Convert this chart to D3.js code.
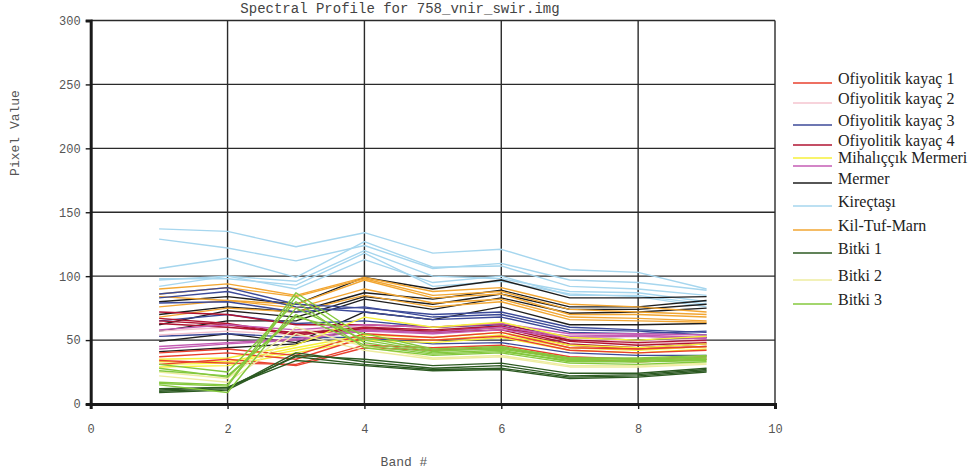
<!DOCTYPE html>
<html>
<head>
<meta charset="utf-8">
<script src="https://cdn.jsdelivr.net/npm/d3@7/dist/d3.min.js"></script>
<style>
  html, body { margin: 0; padding: 0; background: #fff; }
  svg { display: block; }
</style>
</head>
<body>
<div id="chart"></div>
<script>
// Band numbers sampled by every spectrum
const bands = [1, 2, 3, 4, 5, 6, 7, 8, 9];

// Axis ticks
const xTicks = [0, 2, 4, 6, 8, 10];
const yTicks = [0, 50, 100, 150, 200, 250, 300];

// Legend entries (class names) and their colours
const classNames = [
  "Ofiyolitik kayaç 1", "Ofiyolitik kayaç 2", "Ofiyolitik kayaç 3", "Ofiyolitik kayaç 4",
  "Mihalıççık Mermeri", "Mermer", "Kireçtaşı", "Kil-Tuf-Marn", "Bitki 1", "Bitki 2", "Bitki 3"
];
const classColors = [
  ["#e8402e"], ["#f4c4cf"], ["#3c4a98"], ["#b01432"],
  ["#f6f03a", "#c45cb4"], ["#1e1e1e"], ["#a6d6ee"], ["#f2a632"],
  ["#2c5a22"], ["#eeeca0"], ["#84c83e"]
];

// Pixel values per band, one row per sampled pixel
const ofiyolitik1 = [
  [37, 40, 35, 52, 50, 53, 42, 40, 42],
  [34, 32, 31, 46, 44, 46, 37, 35, 37],
  [40, 43, 38, 55, 52, 56, 44, 43, 45],
  [31, 35, 30, 44, 42, 44, 35, 33, 35]
];
const ofiyolitik2 = [
  [57, 60, 56, 61, 57, 61, 51, 49, 51],
  [54, 57, 54, 59, 55, 59, 49, 47, 49]
];
const ofiyolitik3 = [
  [86, 91, 78, 75, 70, 72, 60, 58, 56],
  [79, 80, 72, 76, 68, 70, 58, 57, 54],
  [83, 88, 76, 72, 66, 68, 56, 55, 57],
  [65, 70, 63, 65, 60, 62, 52, 50, 50],
  [53, 55, 52, 52, 47, 48, 40, 38, 38]
];
const ofiyolitik4 = [
  [67, 63, 55, 60, 58, 61, 49, 46, 48],
  [65, 62, 54, 59, 57, 60, 47, 44, 47],
  [63, 60, 56, 58, 56, 58, 46, 43, 45],
  [72, 70, 62, 62, 60, 63, 50, 48, 50]
];
const mihaliccikYellow = [
  [33, 33, 44, 54, 52, 56, 46, 44, 47],
  [31, 32, 42, 52, 50, 54, 44, 42, 45],
  [29, 30, 40, 50, 48, 52, 42, 40, 43],
  [35, 36, 46, 68, 60, 64, 52, 50, 53]
];
const mihaliccikPurple = [
  [43, 47, 50, 57, 55, 58, 52, 53, 51],
  [45, 48, 51, 58, 56, 60, 53, 54, 52],
  [58, 62, 58, 62, 60, 63, 55, 55, 54]
];
const mermer = [
  [80, 84, 78, 99, 90, 97, 83, 83, 84],
  [70, 76, 72, 87, 82, 89, 76, 76, 81],
  [62, 73, 68, 84, 78, 86, 74, 74, 78],
  [57, 65, 65, 82, 74, 83, 71, 72, 75],
  [49, 55, 48, 72, 66, 76, 62, 62, 63],
  [41, 44, 47, 60, 56, 60, 50, 50, 52]
];
const kirectasi = [
  [137, 135, 123, 134, 118, 121, 105, 103, 90],
  [129, 122, 112, 124, 106, 110, 97, 95, 89],
  [106, 114, 99, 127, 107, 108, 92, 90, 85],
  [97, 100, 96, 120, 100, 98, 88, 87, 80],
  [92, 100, 90, 113, 95, 100, 85, 85, 78],
  [98, 98, 93, 118, 92, 96, 86, 84, 76]
];
const kilTufMarn = [
  [90, 94, 85, 99, 88, 91, 78, 76, 72],
  [86, 91, 84, 98, 85, 88, 74, 72, 70],
  [84, 81, 78, 97, 83, 86, 70, 70, 68],
  [76, 81, 75, 90, 79, 82, 68, 67, 65],
  [68, 75, 72, 85, 76, 80, 66, 65, 64]
];
const bitki1 = [
  [10, 12, 40, 33, 28, 30, 22, 23, 27],
  [11, 13, 37, 31, 27, 28, 21, 22, 26],
  [12, 13, 34, 30, 26, 27, 20, 21, 25],
  [9, 11, 38, 35, 30, 32, 24, 24, 28]
];
const bitki2 = [
  [25, 20, 60, 45, 36, 38, 30, 30, 32],
  [22, 17, 55, 42, 35, 37, 29, 29, 31]
];
const bitki3 = [
  [17, 15, 87, 52, 42, 43, 35, 34, 36],
  [16, 14, 84, 48, 40, 42, 33, 33, 34],
  [31, 25, 80, 44, 38, 40, 32, 31, 33],
  [28, 21, 70, 46, 39, 41, 34, 33, 35],
  [15, 9, 75, 50, 41, 44, 36, 35, 37],
  [26, 22, 68, 55, 43, 45, 36, 36, 38]
];

// Drawing order (back to front) with colours
const layers = [
  { rows: kirectasi, color: classColors[6][0] },
  { rows: mermer, color: classColors[5][0] },
  { rows: kilTufMarn, color: classColors[7][0] },
  { rows: ofiyolitik3, color: classColors[2][0] },
  { rows: ofiyolitik2, color: classColors[1][0] },
  { rows: ofiyolitik4, color: classColors[3][0] },
  { rows: mihaliccikPurple, color: classColors[4][1] },
  { rows: mihaliccikYellow, color: classColors[4][0] },
  { rows: ofiyolitik1, color: classColors[0][0] },
  { rows: bitki1, color: classColors[8][0] },
  { rows: bitki2, color: classColors[9][0] },
  { rows: bitki3, color: classColors[10][0] }
];

const W = 974, H = 475;
const plotLeft = 90.7, plotRight = 775, plotTop = 20.5, plotBottom = 404;

const svg = d3.select("#chart").append("svg")
  .attr("width", W).attr("height", H);

const x = d3.scaleLinear().domain([0, 10]).range([plotLeft, plotRight]);
const y = d3.scaleLinear().domain([0, 300]).range([plotBottom, plotTop]);

const mono = "'Liberation Mono', 'DejaVu Sans Mono', monospace";
const serif = "'Liberation Serif', 'DejaVu Serif', serif";

// Title
svg.append("text")
  .attr("x", 400).attr("y", 13)
  .attr("text-anchor", "middle")
  .attr("font-family", mono).attr("font-size", 14)
  .attr("fill", "#444")
  .text("Spectral Profile for 758_vnir_swir.img");

// Grid
const grid = svg.append("g").attr("stroke", "#2a2a2a").attr("stroke-width", 1.4);
grid.selectAll(".gx").data(xTicks.filter(d => d > 0)).join("line")
  .attr("x1", d => x(d)).attr("x2", d => x(d))
  .attr("y1", y(300)).attr("y2", y(0));
grid.selectAll(".gy").data(yTicks.filter(d => d > 0)).join("line")
  .attr("x1", x(0)).attr("x2", x(10))
  .attr("y1", d => y(d)).attr("y2", d => y(d));

// Spectra
const line = d3.line().x((d, i) => x(bands[i])).y(d => y(d));
const plot = svg.append("g").attr("fill", "none").attr("stroke-width", 1.4)
  .attr("stroke-linejoin", "round");
layers.forEach(layer => {
  plot.append("g").attr("stroke", layer.color)
    .selectAll("path").data(layer.rows).join("path")
    .attr("d", line);
});

// Axes
const xAxis = svg.append("g").attr("transform", `translate(0,${plotBottom})`)
  .call(d3.axisBottom(x).tickValues(xTicks).tickSize(5).tickPadding(15));
const yAxis = svg.append("g").attr("transform", `translate(${plotLeft},0)`)
  .call(d3.axisLeft(y).tickValues(yTicks).tickSize(5).tickPadding(5));
[xAxis, yAxis].forEach(a => {
  a.select(".domain").attr("stroke", "#1a1a1a").attr("stroke-width", 3);
  a.selectAll(".tick line").attr("stroke", "#1a1a1a").attr("stroke-width", 1.4);
  a.selectAll(".tick text").attr("font-family", mono).attr("font-size", 12).attr("fill", "#555");
});

// Axis titles
svg.append("text")
  .attr("x", 404).attr("y", 466)
  .attr("text-anchor", "middle")
  .attr("font-family", mono).attr("font-size", 13).attr("fill", "#555")
  .text("Band #");
svg.append("text")
  .attr("transform", "translate(19,133) rotate(-90)")
  .attr("text-anchor", "middle")
  .attr("font-family", mono).attr("font-size", 13).attr("fill", "#555")
  .text("Pixel Value");

// Legend
const legendRows = [83, 103, 125, 145, 162, 183, 206, 230, 253, 280, 304];
const legend = svg.append("g");
classNames.forEach((name, i) => {
  const cols = classColors[i];
  const yc = legendRows[i];
  const offs = cols.length === 2 ? [-4, 4] : [0];
  cols.forEach((c, j) => {
    legend.append("line")
      .attr("x1", 793).attr("x2", 832)
      .attr("y1", yc + offs[j]).attr("y2", yc + offs[j])
      .attr("stroke", c).attr("stroke-width", 1.4);
  });
  legend.append("text")
    .attr("x", 838).attr("y", yc + 1)
    .attr("font-family", serif).attr("font-size", 16).attr("fill", "#222")
    .text(name);
});
</script>
</body>
</html>
